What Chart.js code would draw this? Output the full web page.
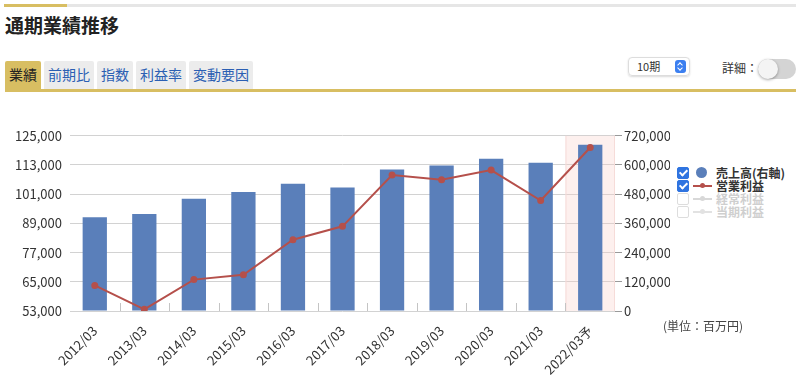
<!DOCTYPE html>
<html lang="ja">

<head>
    <meta charset="UTF-8">
    <title>通期業績推移</title>
    <script src="https://cdn.jsdelivr.net/npm/chart.js"></script>
    <style>
        body {
            margin: 0;
            width: 800px;
            height: 375px;
            overflow: hidden;
            background: #fff;
            font-family: "Noto Sans CJK JP", "Noto Sans", sans-serif;
            color: #333;
            position: relative;
        }

        .topLine {
            position: absolute;
            top: 4px;
            left: 4px;
            width: 792px;
            height: 3px;
            background: #e6e6e6;
        }

        .topLine span {
            display: block;
            width: 63px;
            height: 3px;
            background: #d8be62;
        }

        h2 {
            position: absolute;
            top: 11px;
            left: 5px;
            margin: 0;
            font-size: 19px;
            font-weight: bold;
            color: #222;
        }

        .tabs {
            position: absolute;
            top: 61px;
            left: 5px;
            width: 791px;
            height: 28px;
            border-bottom: 3px solid #d8be62;
        }

        .tabs div {
            float: left;
            height: 28px;
            line-height: 27px;
            padding: 0 4px;
            margin-right: 3px;
            font-size: 14px;
            background: #ececec;
            color: #2b5fb3;
            border-radius: 2px 2px 0 0;
        }

        .tabs div.active {
            background: #d8be62;
            color: #222;
        }

        .period {
            position: absolute;
            top: 57px;
            left: 628px;
            width: 60px;
            height: 17px;
            border: 1px solid #ddd;
            border-radius: 4px;
            box-shadow: 0 1px 2px rgba(0, 0, 0, 0.15);
            font-size: 11px;
            line-height: 17px;
        }

        .period span {
            position: absolute;
            left: 8px;
        }

        .period i {
            position: absolute;
            right: 3px;
            top: 2px;
            width: 11px;
            height: 13px;
            border-radius: 3px;
            background: #3b7ff0;
        }

        .period i::before,
        .period i::after {
            content: "";
            position: absolute;
            left: 3px;
            width: 3px;
            height: 3px;
            border: solid #fff;
            border-width: 1px 0 0 1px;
        }

        .period i::before {
            top: 3px;
            transform: rotate(45deg);
        }

        .period i::after {
            top: 6px;
            transform: rotate(225deg);
        }

        .detail {
            position: absolute;
            top: 59px;
            left: 722px;
            font-size: 12px;
        }

        .toggle {
            position: absolute;
            top: 59px;
            left: 758px;
            width: 38px;
            height: 20px;
            border-radius: 10px;
            background: #d4d4d4;
        }

        .toggle i {
            position: absolute;
            left: 0;
            top: 0;
            width: 20px;
            height: 20px;
            border-radius: 10px;
            background: #f4f4f4;
            box-shadow: 0 1px 3px rgba(0, 0, 0, 0.35);
        }

        #chartBox {
            position: absolute;
            top: 120px;
            left: 0;
            width: 670px;
            height: 255px;
        }

        .legend {
            position: absolute;
            top: 166px;
            left: 676px;
            font-size: 12px;
            font-weight: bold;
        }

        .legend div {
            position: relative;
            height: 13px;
            line-height: 13px;
            padding-left: 40px;
            white-space: nowrap;
        }

        .legend .box {
            position: absolute;
            left: 1px;
            top: 1px;
            width: 10px;
            height: 10px;
            border-radius: 2px;
            border: 1px solid #ddd;
            background: #fff;
        }

        .legend .box.on {
            background: #2f74e0;
            border-color: #2f74e0;
        }

        .legend .box.on::after {
            content: "";
            position: absolute;
            left: 3px;
            top: 0px;
            width: 3px;
            height: 6px;
            border: solid #fff;
            border-width: 0 2px 2px 0;
            transform: rotate(45deg);
        }

        .legend .dot {
            position: absolute;
            left: 20px;
            top: 1px;
            width: 11px;
            height: 11px;
            border-radius: 6px;
            background: #5a7fba;
        }

        .legend .ln {
            position: absolute;
            left: 17px;
            top: 6px;
            width: 19px;
            height: 2px;
        }

        .legend .ln::after {
            content: "";
            position: absolute;
            left: 7px;
            top: -2px;
            width: 5px;
            height: 5px;
            border-radius: 3px;
            background: inherit;
        }

        .legend .off {
            color: #cfcfcf;
        }

        .unit {
            position: absolute;
            top: 317px;
            left: 663px;
            font-size: 12px;
            color: #444;
        }
    </style>
</head>

<body>
    <div class="topLine"><span></span></div>
    <h2>通期業績推移</h2>

    <div class="tabs">
        <div class="active">業績</div>
        <div>前期比</div>
        <div>指数</div>
        <div>利益率</div>
        <div>変動要因</div>
    </div>

    <div class="period"><span>10期</span><i></i></div>
    <div class="detail">詳細：</div>
    <div class="toggle"><i></i></div>

    <div id="chartBox">
        <canvas id="chart-combo"></canvas>
    </div>

    <div class="legend">
        <div><span class="box on"></span><span class="dot"></span>売上高(右軸)</div>
        <div><span class="box on"></span><span class="ln" style="background:#b5504b"></span>営業利益</div>
        <div class="off"><span class="box"></span><span class="ln" style="background:#d8d8d8"></span>経常利益</div>
        <div class="off"><span class="box"></span><span class="ln" style="background:#e2e2e2"></span>当期利益</div>
    </div>

    <div class="unit">(単位：百万円)</div>

    <script>
        // 決算期
        const periods = ['2012/03', '2013/03', '2014/03', '2015/03', '2016/03', '2017/03',
            '2018/03', '2019/03', '2020/03', '2021/03', '2022/03予'];
        // 売上高 (右軸)
        const sales = [385000, 399000, 461000, 489000, 523000, 508000, 582000, 598000, 626000, 609000, 683000];
        // 営業利益 (左軸)
        const operatingProfit = [63500, 53700, 65900, 67900, 82300, 87800, 108900, 106900, 110900, 98400, 120200];

        const leftMin = 53000, leftMax = 125000, leftStep = 12000;
        const rightMin = 0, rightMax = 720000, rightStep = 120000;

        const font = { family: '"Noto Sans CJK JP", "Noto Sans", sans-serif', size: 13 };

        // 予想期の背景
        const forecastBand = {
            id: 'forecastBand',
            beforeDatasetsDraw(chart) {
                const x = chart.scales.x;
                const area = chart.chartArea;
                const last = periods.length - 1;
                const half = (x.getPixelForTick(1) - x.getPixelForTick(0)) / 2;
                const left = x.getPixelForTick(last) - half;
                const ctx = chart.ctx;
                ctx.save();
                ctx.fillStyle = 'rgba(247, 205, 200, 0.3)';
                ctx.fillRect(left, area.top, area.right - left, area.bottom - area.top);
                ctx.strokeStyle = '#f6dcd9';
                ctx.lineWidth = 1;
                ctx.beginPath();
                ctx.moveTo(left + 0.5, area.top);
                ctx.lineTo(left + 0.5, area.bottom);
                ctx.moveTo(area.right - 0.5, area.top);
                ctx.lineTo(area.right - 0.5, area.bottom);
                ctx.stroke();
                ctx.restore();
            }
        };

        // カテゴリ境界の小さい目盛
        const boundaryTicks = {
            id: 'boundaryTicks',
            afterDatasetsDraw(chart) {
                const x = chart.scales.x;
                const area = chart.chartArea;
                const ctx = chart.ctx;
                ctx.save();
                ctx.strokeStyle = '#c4c4c4';
                ctx.lineWidth = 1;
                ctx.beginPath();
                for (let i = 1; i < periods.length; i++) {
                    const px = Math.round((x.getPixelForTick(i - 1) + x.getPixelForTick(i)) / 2) + 0.5;
                    ctx.moveTo(px, area.bottom - 8);
                    ctx.lineTo(px, area.bottom);
                }
                ctx.stroke();
                ctx.restore();
            }
        };

        new Chart(document.getElementById('chart-combo'), {
            type: 'bar',
            data: {
                labels: periods,
                datasets: [{
                    type: 'line',
                    label: '営業利益',
                    data: operatingProfit,
                    yAxisID: 'y',
                    borderColor: '#b5504b',
                    backgroundColor: '#b5504b',
                    borderWidth: 2,
                    pointRadius: 2.5,
                    tension: 0,
                    order: 1
                }, {
                    type: 'bar',
                    label: '売上高(右軸)',
                    data: sales,
                    yAxisID: 'y1',
                    backgroundColor: '#5a7fba',
                    barPercentage: 0.49,
                    categoryPercentage: 1,
                    order: 2
                }]
            },
            options: {
                responsive: true,
                maintainAspectRatio: false,
                animation: false,
                layout: { padding: { top: 10 } },
                plugins: {
                    legend: { display: false },
                    tooltip: { enabled: false }
                },
                scales: {
                    x: {
                        grid: { display: false },
                        border: { display: false },
                        ticks: {
                            font: font,
                            color: '#333',
                            minRotation: 45,
                            maxRotation: 45,
                            padding: 4
                        },
                        afterFit(scale) { scale.height = 64; }
                    },
                    y: {
                        position: 'left',
                        min: leftMin,
                        max: leftMax,
                        grid: { color: '#d2d2d2', drawTicks: false },
                        border: { display: false },
                        ticks: {
                            stepSize: leftStep,
                            font: font,
                            color: '#333',
                            padding: 8,
                            callback: v => v.toLocaleString('en-US')
                        },
                        afterFit(scale) { scale.width = 70; }
                    },
                    y1: {
                        position: 'right',
                        min: rightMin,
                        max: rightMax,
                        grid: { drawOnChartArea: false, color: '#999', tickLength: 7 },
                        border: { display: false },
                        ticks: {
                            stepSize: rightStep,
                            font: font,
                            color: '#333',
                            padding: 2,
                            callback: v => v.toLocaleString('en-US')
                        },
                        afterFit(scale) { scale.width = 55; }
                    }
                }
            },
            plugins: [forecastBand, boundaryTicks]
        });
    </script>
</body>

</html>
